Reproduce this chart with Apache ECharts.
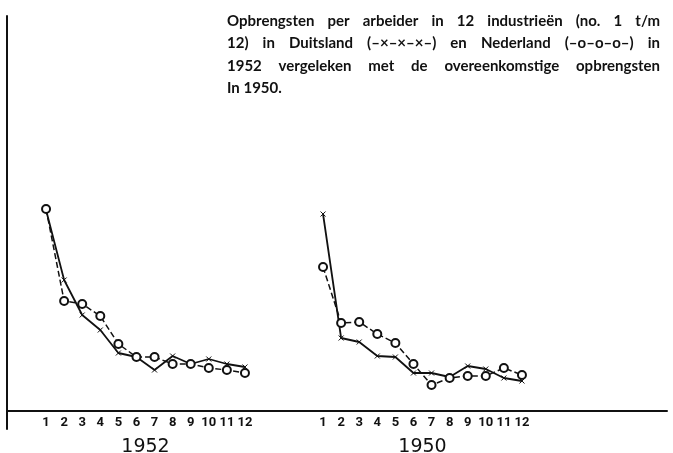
<!DOCTYPE html>
<html>
<head>
<meta charset="utf-8">
<script src="https://cdn.jsdelivr.net/npm/echarts@6/dist/echarts.min.js"></script>
<style>
  html, body { margin: 0; padding: 0; background: #fff; }
  #chart { width: 673px; height: 453px; }
</style>
</head>
<body>
<div id="chart"></div>
<script>
// industrie no. 1 t/m 12
const industries = ['1', '2', '3', '4', '5', '6', '7', '8', '9', '10', '11', '12'];

// opbrengst per arbeider (ongeschaald)
const duitsland1952 = [201, 131, 96, 81, 58, 54, 41, 55, 47, 52, 47, 44];
const nederland1952 = [202, 110, 107, 95, 67, 54, 54, 47, 47, 43, 41, 38];
const duitsland1950 = [197, 73, 69, 55, 54, 38, 38, 34, 45, 42, 33, 30];
const nederland1950 = [144, 88, 89, 77, 68, 47, 26, 33, 35, 35, 43, 36];

const yearLabels = ['1952', '1950'];

const titleLines = [
  'Opbrengsten per arbeider in 12 industrieën (no. 1 t/m',
  '12) in Duitsland (–×–×–×–) en Nederland (–o–o–o–) in',
  '1952 vergeleken met de overeenkomstige opbrengsten',
  'In 1950.'
];

const ink = '#111';
const titleFont = 'bold 15px Lato';

// uitgevulde tekstregels (woorden over de volle breedte verdeeld)
const ctx = document.createElement('canvas').getContext('2d');
ctx.font = titleFont;
const buildTitle = (lines, x0, y0, width, gap) => {
  const els = [];
  lines.forEach((line, i) => {
    const words = line.split(' ');
    const widths = words.map(w => ctx.measureText(w).width);
    const total = widths.reduce((a, b) => a + b, 0);
    const last = i === lines.length - 1;
    const space = last ? ctx.measureText(' ').width
                       : (width - total) / Math.max(words.length - 1, 1);
    let x = x0;
    words.forEach((w, j) => {
      els.push({
        type: 'text', x: x, y: y0 + i * gap,
        style: { text: w, font: titleFont, fill: ink, verticalAlign: 'middle' }
      });
      x += widths[j] + space;
    });
  });
  return els;
};

const crossSymbol = 'path://M0,0L10,10M10,0L0,10';

const catAxis = (grid, name) => ({
  gridIndex: grid,
  type: 'category',
  data: industries,
  boundaryGap: true,
  axisLine: { show: false },
  axisTick: { show: false },
  axisLabel: {
    interval: 0,
    margin: 5,
    color: ink,
    fontFamily: 'Roboto',
    fontWeight: 'bold',
    fontSize: 13
  },
  name: name,
  nameLocation: 'middle',
  nameGap: 27,
  nameTextStyle: { color: ink, fontFamily: 'DejaVu Sans', fontSize: 19 }
});

const valAxis = grid => ({
  gridIndex: grid, type: 'value', min: 0, max: 400, show: false
});

const germanLine = (grid, data) => ({
  name: 'Duitsland',
  type: 'line',
  xAxisIndex: grid, yAxisIndex: grid,
  data: data,
  symbol: crossSymbol,
  symbolSize: 5,
  itemStyle: { color: ink, borderColor: ink, borderWidth: 1 },
  lineStyle: { color: ink, width: 1.8 },
  z: 2
});

const dutchLine = (grid, data) => ({
  name: 'Nederland',
  type: 'line',
  xAxisIndex: grid, yAxisIndex: grid,
  data: data,
  symbol: 'emptyCircle',
  symbolSize: 8,
  itemStyle: { color: ink, borderColor: ink, borderWidth: 1.4 },
  lineStyle: { color: ink, width: 1.5, type: [6, 3] },
  z: 3
});

const chart = echarts.init(document.getElementById('chart'));
chart.setOption({
  animation: false,
  backgroundColor: '#fff',
  grid: [
    { left: 7, top: 16, right: 6, bottom: 24, outerBoundsMode: 'none' },
    { left: 37, width: 217, top: 11, bottom: 42, outerBoundsMode: 'none' },
    { left: 314, width: 217, top: 11, bottom: 42, outerBoundsMode: 'none' }
  ],
  xAxis: [
    {
      gridIndex: 0, type: 'value', min: 0, max: 1,
      axisLine: { show: true, onZero: true, lineStyle: { color: ink, width: 2 } },
      axisTick: { show: false }, axisLabel: { show: false }, splitLine: { show: false }
    },
    catAxis(1, yearLabels[0]),
    catAxis(2, yearLabels[1])
  ],
  yAxis: [
    {
      gridIndex: 0, type: 'value', min: -18, max: 395,
      axisLine: { show: true, onZero: false, lineStyle: { color: ink, width: 2 } },
      axisTick: { show: false }, axisLabel: { show: false }, splitLine: { show: false }
    },
    valAxis(1),
    valAxis(2)
  ],
  graphic: buildTitle(titleLines, 227, 21, 433, 22.5),
  series: [
    germanLine(1, duitsland1952),
    dutchLine(1, nederland1952),
    germanLine(2, duitsland1950),
    dutchLine(2, nederland1950)
  ]
});
</script>
</body>
</html>
